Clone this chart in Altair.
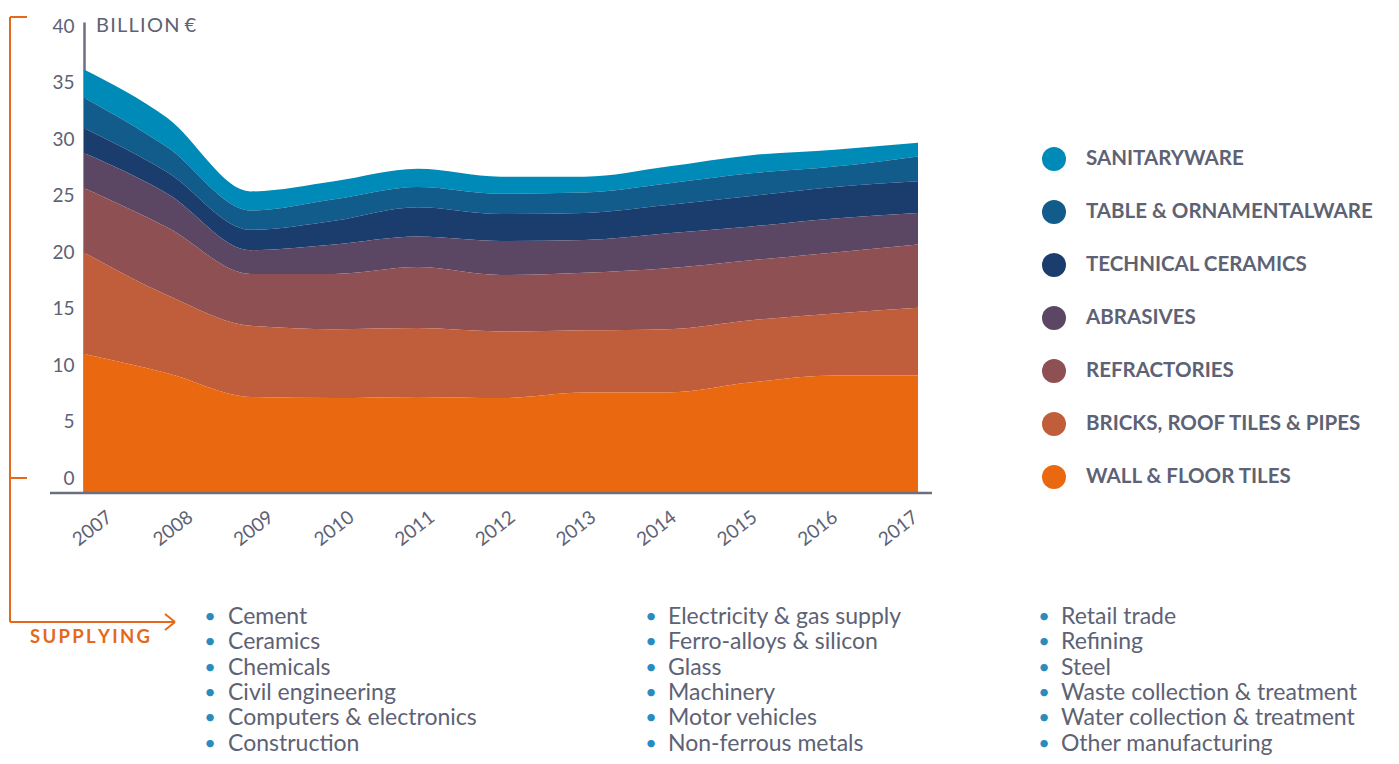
import altair as alt
import pandas as pd

years = list(range(2007, 2018))
categories = ["SANITARYWARE", "TABLE & ORNAMENTALWARE", "TECHNICAL CERAMICS",
              "ABRASIVES", "REFRACTORIES", "BRICKS, ROOF TILES & PIPES", "WALL & FLOOR TILES"]
colors = ["#008AB8", "#115C8A", "#1B3D6E", "#5B4764", "#8E5052", "#C05E3B", "#EA6910"]

sanitaryware = [2.5, 2.6, 1.7, 1.6, 1.6, 1.5, 1.4, 1.5, 1.6, 1.5, 1.2]
tableware = [2.7, 2.2, 1.7, 1.9, 1.8, 1.8, 1.8, 1.9, 2.0, 1.8, 2.2]
technical = [2.2, 1.9, 1.8, 2.1, 2.6, 2.4, 2.4, 2.5, 2.7, 2.8, 2.8]
abrasives = [3.1, 3.0, 2.1, 2.6, 2.7, 3.0, 2.9, 3.1, 3.0, 3.0, 2.8]
refractories = [5.7, 6.0, 4.6, 4.9, 5.4, 5.0, 5.1, 5.4, 5.3, 5.4, 5.6]
bricks = [9.0, 6.9, 6.3, 6.1, 6.1, 5.9, 5.5, 5.6, 5.5, 5.5, 6.0]
wall_floor = [12.3, 10.6, 8.5, 8.4, 8.5, 8.4, 8.9, 8.9, 9.8, 10.4, 10.4]

y_ticks = [0, 5, 10, 15, 20, 25, 30, 35, 40]

supply_col1 = ["Cement", "Ceramics", "Chemicals", "Civil engineering",
               "Computers & electronics", "Construction"]
supply_col2 = ["Electricity & gas supply", "Ferro-alloys & silicon", "Glass",
               "Machinery", "Motor vehicles", "Non-ferrous metals"]
supply_col3 = ["Retail trade", "Refining", "Steel", "Waste collection & treatment",
               "Water collection & treatment", "Other manufacturing"]

series = [sanitaryware, tableware, technical, abrasives, refractories, bricks, wall_floor]
rows = []
for i, (cat, vals) in enumerate(zip(categories, series)):
    rank = len(categories) - 1 - i
    for y, v in zip(years, vals):
        rows.append({"year": y, "category": cat, "value": v, "rank": rank})
df = pd.DataFrame(rows)

GRAY = "#5d6274"
ORANGE = "#E5691C"
BLUE = "#2A8BBF"
FONT = "Lato"
HS = "\u200a"  # hair space for letter spacing

# year labels in the reference are spread slightly tighter than the ticks
label_offset = {
    "condition": [{"test": f"datum.value == {y}", "value": round(8 - i * 2.8, 1)}
                  for i, y in enumerate(years)],
    "value": 0,
}

area = alt.Chart(df).mark_area(interpolate="monotone").encode(
    x=alt.X("year:Q", scale=alt.Scale(domain=[2007, 2017], nice=False),
            axis=alt.Axis(values=years, format="d", title=None, domain=False, ticks=False,
                          tickSize=0, grid=False, labelAngle=-38, labelAlign="center",
                          labelBaseline="middle", labelPadding=35, labelFontSize=19,
                          labelFont=FONT, labelColor=GRAY, labelOffset=label_offset)),
    y=alt.Y("value:Q", stack="zero", scale=alt.Scale(domain=[0, 41.7], nice=False),
            axis=alt.Axis(values=y_ticks, title=None, ticks=False, tickSize=0, grid=False,
                          domainColor="#6b6f80", domainWidth=2.5, labelOffset=-15,
                          labelPadding=10, labelFontSize=19, labelFont=FONT,
                          labelColor=GRAY)),
    color=alt.Color("category:N", scale=alt.Scale(domain=categories, range=colors),
                    legend=alt.Legend(orient="none", legendX=958, legendY=125, title=None,
                                      symbolType="circle", symbolSize=576,
                                      symbolStrokeWidth=0, symbolOpacity=1,
                                      labelFont=FONT, labelFontWeight="bold",
                                      labelFontSize=20.5, labelColor=GRAY,
                                      rowPadding=29, labelOffset=20, labelLimit=500)),
    order=alt.Order("rank:Q", sort="ascending"),
)

one = pd.DataFrame({"a": [0]})


def rule(x, x2, y, y2, color=ORANGE, width=2):
    return alt.Chart(one).mark_rule(color=color, strokeWidth=width).encode(
        x=alt.value(x), x2=alt.value(x2), y=alt.value(y), y2=alt.value(y2))


def text(t, x, y, size, color, weight="normal", align="left", baseline="middle",
         line_height=None):
    kw = dict(align=align, baseline=baseline, font=FONT, fontSize=size, color=color,
              fontWeight=weight)
    if line_height is not None:
        kw["lineBreak"] = "\n"
        kw["lineHeight"] = line_height
    return alt.Chart(pd.DataFrame({"t": [t]})).mark_text(**kw).encode(
        x=alt.value(x), y=alt.value(y), text="t:N")


def spaced(s, n=1):
    return (HS * n).join(list(s))


# x-axis baseline, extended beyond the plot as in the reference
x_base = rule(-34, 848, 471, 471, color="#6b6f80", width=2.5)

# orange bracket
bracket = [
    rule(-74, -74, -5, 600),
    rule(-74, -57, -5, -5),
    rule(-74, -57, 456, 456),
    rule(-74, 91, 600, 600),
    rule(81, 91, 592, 600),
    rule(81, 91, 608, 600),
]

labels = [
    text(spaced("BILLION") + " " + "€", 12, 4, 20, GRAY),
    text(spaced("SUPPLYING", 2), -54, 615, 18.5, ORANGE, weight="bold"),
]

lh = 25.3
first_y = 595
lists = []
for items, bx, tx in [(supply_col1, 126, 144), (supply_col2, 567, 584), (supply_col3, 960, 977)]:
    lists.append(text("\n".join(["•"] * len(items)), bx, first_y, 20, BLUE, align="center",
                      line_height=lh))
    lists.append(text("\n".join(items), tx, first_y, 23, GRAY, line_height=lh))

chart = alt.layer(area, x_base, *bracket, *labels, *lists).properties(
    width=834, height=471,
    padding={"left": 76, "top": 14, "right": 472, "bottom": 263},
    autosize=alt.AutoSizeParams(type="none"),
).configure_view(stroke=None)

chart.save("out.html", embed_options={"renderer": "svg", "actions": False})
